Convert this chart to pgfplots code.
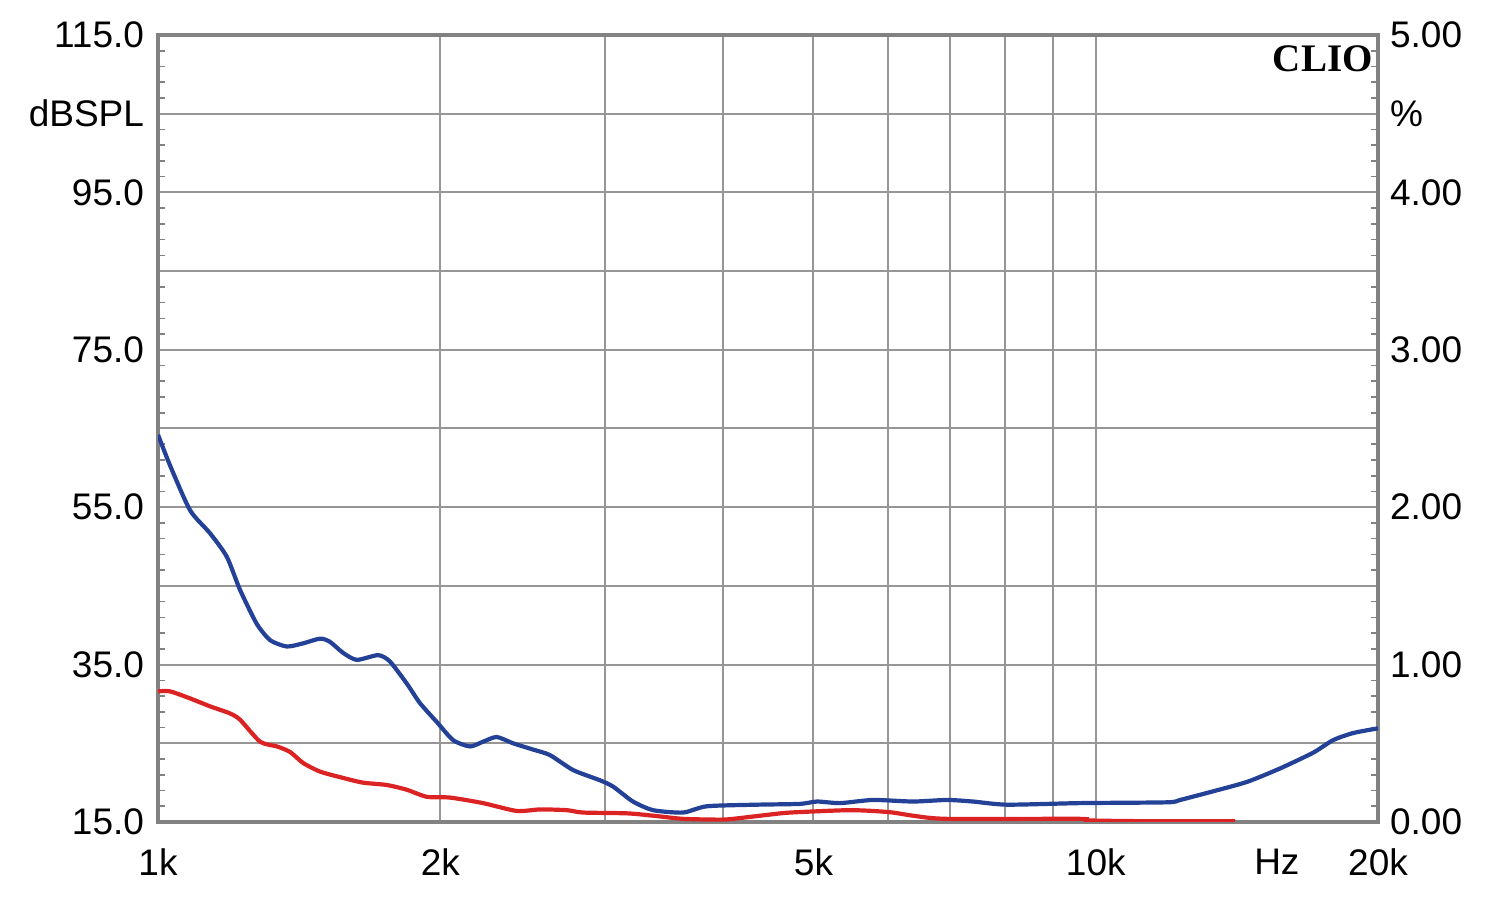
\documentclass[border=0pt]{standalone}
\usepackage{fontspec}
\setmainfont{Liberation Sans}
\newfontfamily\cliofont{Liberation Serif}
\usepackage{pgfplots}
\usepackage{pgfplotstable}
\pgfplotsset{compat=1.18}
\definecolor{gridgray}{RGB}{150,150,150}
\definecolor{framegray}{RGB}{130,130,130}
\definecolor{cblue}{RGB}{35,65,150}
\definecolor{cred}{RGB}{220,35,35}
\pgfplotstableread{
f y
1000 64.2
1030 60.3
1082 54.6
1136 51.7
1184 48.7
1223 44.5
1274 40.2
1317 38.1
1372 37.3
1428 37.7
1489 38.3
1525 37.9
1575 36.5
1629 35.6
1717 36.2
1767 35.4
1842 32.6
1903 30.1
1983 27.7
2064 25.4
2151 24.6
2221 25.2
2297 25.8
2391 25.0
2512 24.2
2618 23.5
2771 21.6
2960 20.3
3057 19.5
3210 17.6
3373 16.5
3630 16.2
3850 17.0
4354 17.2
4838 17.3
5044 17.6
5338 17.4
5787 17.8
6386 17.6
6940 17.8
7398 17.6
8042 17.2
9623 17.4
11910 17.5
12300 17.8
13340 18.9
14500 20.1
15720 21.8
17050 23.8
17910 25.4
18810 26.3
20000 26.9
}\blue
\pgfplotstableread{
f y
1000 31.6
1030 31.6
1082 30.7
1136 29.7
1193 28.8
1223 28.0
1285 25.2
1339 24.6
1383 23.9
1428 22.5
1489 21.4
1575 20.6
1654 20.0
1754 19.7
1842 19.1
1935 18.2
2049 18.1
2221 17.4
2413 16.4
2555 16.6
2729 16.5
2840 16.2
3162 16.1
3373 15.8
3630 15.4
3974 15.3
4104 15.4
4461 15.9
4720 16.2
5430 16.5
5787 16.4
6078 16.2
6386 15.8
6940 15.4
9623 15.4
9790 15.2
11340 15.1
14080 15.1
}\red
\begin{document}
\begin{tikzpicture}[x=1pt,y=1pt]
\path[use as bounding box] (0,0) rectangle (750,449.5);
\begin{axis}[
  at={(79pt,38.5pt)}, anchor=south west,
  scale only axis, width=610pt, height=393.5pt,
  xmode=log, xmin=1000, xmax=20000, ymin=15, ymax=115,
  axis line style={framegray, line width=2.2pt},
  xtick={2000,3000,4000,5000,6000,7000,8000,9000,10000},
  xticklabels={2k,,,5k,,,,,10k},
  extra x ticks={1000,15600,20000},
  extra x tick labels={1k,Hz,20k},
  extra x tick style={grid=none},
  xmajorgrids, ymajorgrids,
  grid style={gridgray, line width=1pt},
  major tick length=0pt,
  ytick={15,25,35,45,55,65,75,85,95,105,115},
  yticklabels={15.0,,35.0,,55.0,,75.0,,95.0,dBSPL,115.0},
  minor y tick num=4,
  minor tick length=3.5pt,
  tick align=inside,
  ytick pos=both, yticklabel pos=left,
  xtick pos=bottom,
  minor tick style={framegray, line width=0.8pt},
  major tick style={draw=none},
  tick label style={font=\fontsize{18.5}{22}\selectfont},
  yticklabel style={xshift=-3.5pt},
  xticklabel style={yshift=-10pt},
  /pgf/number format/assume math mode=true,
  clip=true,
]
\addplot[cblue, line width=2.1pt, smooth, tension=0.4] table[x=f,y=y] {\blue};
\addplot[cred, line width=2.1pt, smooth, tension=0.4] table[x=f,y=y] {\red};
\node[anchor=north east, inner sep=0pt, font={\cliofont\bfseries\fontsize{19.5}{22}\selectfont}] at (rel axis cs:1,1) [xshift=-2.5pt, yshift=-5pt] {CLIO};
\end{axis}
\begin{axis}[
  at={(79pt,38.5pt)}, anchor=south west,
  scale only axis, width=610pt, height=393.5pt,
  xmode=log, xmin=1000, xmax=20000, ymin=0, ymax=5,
  hide x axis,
  axis y line*=right,
  axis line style={draw=none},
  major tick length=0pt,
  ytick={0,1,2,3,4,4.5,5},
  yticklabels={0.00,1.00,2.00,3.00,4.00,\%,5.00},
  tick label style={font=\fontsize{18.5}{22}\selectfont},
  yticklabel style={xshift=2.5pt},
]
\end{axis}
\end{tikzpicture}
\end{document}
